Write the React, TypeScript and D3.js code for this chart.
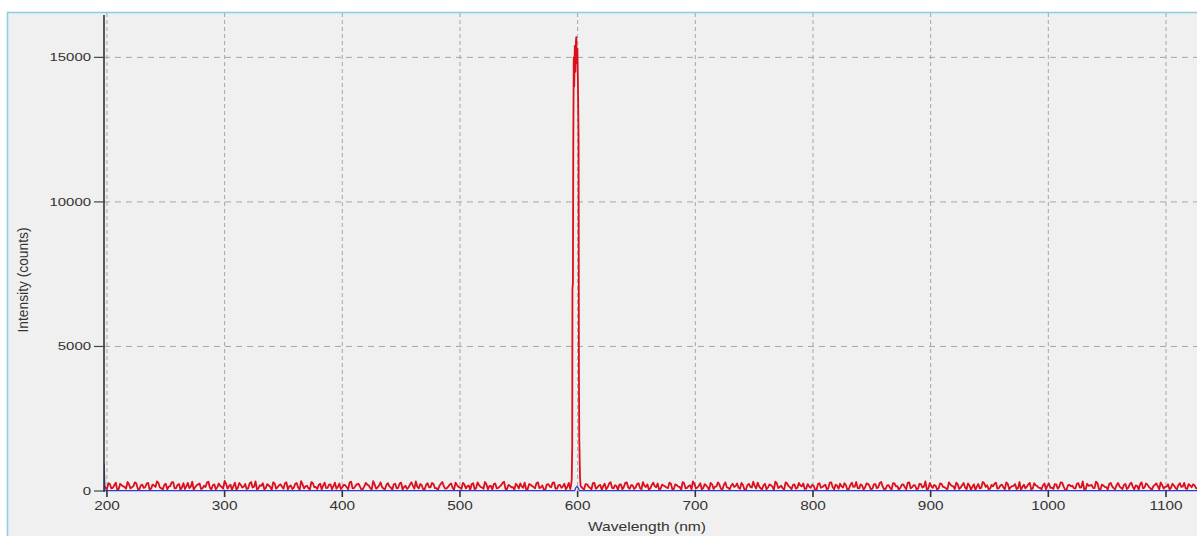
import React from "react";
import * as d3 from "d3";

// Axis ticks
const X_TICKS = [200, 300, 400, 500, 600, 700, 800, 900, 1000, 1100];
const Y_TICKS = [0, 5000, 10000, 15000];

// Baseline noise below the peak, two interleaved 2.5 nm grids (offset 1.25 nm)
const NOISE_STEP = 2.5;
const NOISE_OFFSET = 1.25;
const NOISE_LEFT_START = 197.5;
const noiseLeftA = [
  180, 60, 240, 110, 290, 70, 200, 140, 310, 90, 170, 260, 50, 220, 130, 280, 80, 190, 330, 120,
  60, 250, 150, 300, 90, 210, 40, 270, 160, 100, 320, 130, 230, 70, 180, 290, 110, 200, 60, 260,
  140, 350, 80, 220, 170, 50, 280, 120, 240, 90, 310, 150, 60, 200, 270, 100, 190, 40, 260, 130,
  230, 80, 300, 160, 70, 250, 120, 340, 90, 180, 60, 270, 140, 210, 50, 290, 110, 230, 170, 80,
  260, 130, 200, 60, 320, 100, 240, 150, 70, 280, 190, 50, 230, 120, 300, 80, 210, 160, 40, 250,
  110, 290, 140, 70, 220, 180, 330, 90, 200, 60, 270, 130, 240, 100, 170, 310, 80, 150, 260, 50,
  210, 120, 280, 90, 190, 240, 60, 300, 140, 80, 230, 170, 50, 260, 110, 200, 320, 70, 180, 130,
  250, 90, 160, 290, 60, 220, 140, 270, 100, 190, 40, 240, 130, 300, 80, 210, 160, 60, 280,
];
const noiseLeftB = [
  120, 270, 90, 200, 40, 250, 160, 80, 230, 130, 300, 70, 190, 110, 260, 50, 220, 140, 280, 90,
  210, 60, 170, 310, 100, 240, 130, 70, 280, 150, 50, 200, 260, 90, 140, 320, 60, 230, 120, 180,
  80, 250, 170, 40, 290, 110, 210, 150, 70, 260, 120, 330, 90, 180, 60, 240, 140, 300, 80, 200,
  150, 270, 60, 190, 110, 280, 40, 230, 160, 90, 310, 130, 70, 250, 190, 100, 220, 60, 290, 140,
  70, 210, 130, 300, 90, 180, 250, 50, 160, 220, 100, 340, 80, 190, 140, 60, 270, 120, 230, 90,
  260, 50, 180, 120, 300, 80, 150, 240, 60, 210, 130, 280, 100, 40, 250, 170, 90, 220, 110, 290,
  140, 70, 230, 160, 40, 270, 100, 200, 120, 310, 60, 180, 240, 90, 150, 280, 70, 210, 130, 50,
  190, 260, 110, 60, 240, 170, 90, 300, 130, 50, 220, 160, 280, 80, 200, 110, 250, 140, 70,
];

// Emission peak near 600 nm: [wavelength, counts]
const peak: [number, number][] = [
  [594.5, 220], [595.0, 420], [595.4, 1500], [595.6, 7000], [596.0, 7200],
  [596.3, 12000], [596.7, 15000], [597.1, 14000], [597.6, 15400], [598.1, 14500],
  [598.6, 15600], [598.9, 15700], [599.3, 14800], [599.8, 15300], [600.3, 14000],
  [600.8, 12200], [601.1, 4000], [601.4, 1800], [602.0, 500], [602.5, 180],
];

// Baseline noise above the peak
const NOISE_RIGHT_START = 603;
const noiseRightA = [
  150, 60, 230, 110, 270, 80, 190, 40, 250, 130, 300, 90, 170, 220, 60, 280, 120, 200, 70, 240,
  100, 310, 140, 50, 210, 170, 260, 80, 190, 120, 290, 60, 230, 150, 40, 270, 110, 200, 330, 90,
  180, 60, 240, 130, 280, 70, 160, 220, 50, 300, 110, 190, 140, 260, 80, 210, 40, 250, 120, 170,
  290, 90, 200, 60, 230, 150, 320, 100, 180, 50, 260, 130, 210, 80, 280, 160, 70, 240, 110, 190,
  40, 270, 140, 220, 90, 300, 60, 180, 250, 120, 200, 70, 290, 150, 100, 230, 50, 260, 170, 80,
  240, 130, 310, 60, 190, 110, 270, 160, 40, 220, 140, 280, 90, 200, 60, 250, 120, 330, 80, 170,
  210, 50, 260, 140, 90, 300, 180, 70, 230, 120, 280, 60, 190, 150, 40, 240, 110, 270, 200, 80,
  160, 290, 100, 220, 60, 250, 130, 180, 70, 310, 140, 90, 230, 50, 270, 170, 110, 200, 60, 260,
  120, 240, 80, 300, 150, 40, 210, 180, 90, 270, 130, 60, 250, 190, 110, 320, 70, 220, 140, 50,
  280, 100, 200, 160, 70, 240, 120, 290, 60, 180, 230, 90, 260, 140, 40, 210, 170, 300, 80, 150,
  60, 250, 110, 200, 140, 280, 70, 190, 230, 100, 260,
];
const noiseRightB = [
  90, 240, 150, 60, 280, 120, 210, 170, 60, 260, 110, 200, 40, 230, 140, 300, 80, 190, 120, 270,
  60, 180, 230, 90, 290, 130, 50, 220, 160, 100, 250, 70, 200, 140, 310, 90, 170, 60, 240, 120,
  270, 100, 190, 40, 230, 150, 300, 80, 210, 130, 60, 250, 170, 110, 280, 50, 200, 140, 320, 90,
  160, 60, 250, 120, 200, 40, 270, 140, 90, 300, 170, 60, 230, 110, 190, 260, 80, 150, 210, 50,
  240, 110, 180, 60, 290, 130, 220, 80, 160, 270, 40, 210, 140, 310, 90, 190, 120, 250, 60, 230,
  100, 280, 150, 70, 200, 40, 260, 170, 110, 230, 60, 300, 130, 190, 80, 240, 150, 50, 270, 110,
  180, 90, 250, 130, 60, 220, 160, 290, 70, 200, 120, 260, 40, 230, 150, 90, 310, 140, 60, 210,
  250, 80, 190, 130, 300, 60, 170, 240, 100, 40, 220, 150, 280, 90, 200, 120, 60, 260, 180, 110,
  70, 230, 140, 290, 50, 200, 160, 90, 250, 120, 330, 60, 180, 210, 100, 270, 40, 190, 130, 240,
  160, 60, 280, 110, 210, 70, 240, 150, 190, 50, 300, 120, 220, 90, 170, 260, 60, 200, 140, 230,
  110, 190, 60, 270, 150, 90, 240, 130, 200, 80, 170,
];

// Second (reference) channel, near zero
const blueSeries: [number, number][] = [
  [197.6, 950], [198.3, 10], [597.5, 10], [598.5, 120], [599.5, 160], [600.5, 110], [601.5, 10], [1130, 10],
];

const W = 1197;
const H = 536;

const x = d3.scaleLinear().domain([197.5, 1130]).range([104, 1201.3]);
const y = d3.scaleLinear().domain([0, 16500]).range([491, 14]);

type Pt = [number, number];
const onGrid = (vals: number[], start: number): Pt[] =>
  vals.map((v, i) => [start + i * NOISE_STEP, v] as Pt);

const redSeries: Pt[] = [
  ...onGrid(noiseLeftA, NOISE_LEFT_START),
  ...onGrid(noiseLeftB, NOISE_LEFT_START + NOISE_OFFSET),
  ...peak,
  ...onGrid(noiseRightA, NOISE_RIGHT_START),
  ...onGrid(noiseRightB, NOISE_RIGHT_START + NOISE_OFFSET),
].sort((a, b) => a[0] - b[0]);

const line = d3
  .line<Pt>()
  .x((d) => x(d[0]))
  .y((d) => y(d[1]));

const FONT = "'Liberation Sans', Arial, sans-serif";
const TEXT = "#333";

export default function App() {
  const plotTop = 13;
  const axisX = x(197.5);
  const y0 = y(0);
  return (
    <svg
      width={W}
      height={H}
      style={{ position: "absolute", left: 0, top: 0, background: "#fff" }}
    >
      <defs>
        <clipPath id="plot">
          <rect x={axisX} y={plotTop} width={W - axisX} height={y0 - plotTop + 6} />
        </clipPath>
      </defs>
      {/* panel */}
      <rect x={7.5} y={12.5} width={W + 20} height={H + 20} fill="#f0f0f0" stroke="#8dd0e2" strokeWidth={1.6} />

      {/* grid */}
      <g stroke="#a6a6a6" strokeWidth={1}>
        {X_TICKS.map((t) => (
          <line key={"gx" + t} x1={x(t)} x2={x(t)} y1={plotTop} y2={y0} strokeDasharray="4,3" />
        ))}
        {Y_TICKS.filter((t) => t > 0).map((t) => (
          <line key={"gy" + t} x1={axisX} x2={W} y1={y(t)} y2={y(t)} strokeDasharray="6,5" />
        ))}
      </g>

      {/* series */}
      <g clipPath="url(#plot)">
        <path d={line(redSeries) || ""} fill="none" stroke="#dc0f1c" strokeWidth={1.8} strokeLinejoin="round" />
        <path d={line(blueSeries) || ""} fill="none" stroke="#2a3bd0" strokeWidth={1.3} />
      </g>

      {/* y axis */}
      <line x1={axisX} x2={axisX} y1={15} y2={y0 + 1} stroke="#333" strokeWidth={1.6} />
      {Y_TICKS.map((t) => (
        <g key={"yt" + t}>
          <line x1={axisX - 10} x2={axisX} y1={y(t)} y2={y(t)} stroke="#444" strokeWidth={1.2} />
          <text
            transform={`translate(${axisX - 13},${y(t) + 4}) scale(1.3,1)`}
            textAnchor="end"
            fontFamily={FONT}
            fontSize={11.5}
            fill={TEXT}
          >
            {t}
          </text>
        </g>
      ))}

      {/* x axis ticks */}
      {X_TICKS.map((t) => (
        <g key={"xt" + t}>
          <line x1={x(t)} x2={x(t)} y1={y0} y2={y0 + 6} stroke="#333" strokeWidth={1.6} />
          <text
            transform={`translate(${x(t)},${y0 + 19}) scale(1.28,1)`}
            textAnchor="middle"
            fontFamily={FONT}
            fontSize={12}
            fill={TEXT}
          >
            {t}
          </text>
        </g>
      ))}

      {/* axis titles */}
      <text
        transform={`translate(647,531) scale(1.2,1)`}
        textAnchor="middle"
        fontFamily={FONT}
        fontSize={13}
        fill={TEXT}
      >
        Wavelength (nm)
      </text>
      <text
        transform={`translate(28,280) rotate(-90) scale(1.15,1.2)`}
        textAnchor="middle"
        fontFamily={FONT}
        fontSize={12}
        fill={TEXT}
      >
        Intensity (counts)
      </text>
    </svg>
  );
}
